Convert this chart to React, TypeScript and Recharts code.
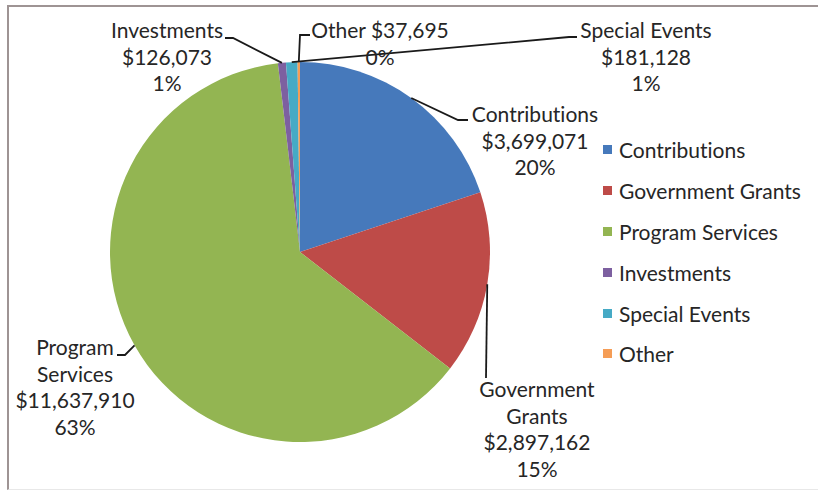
import { Cell, Legend, Pie, PieChart } from "recharts";

const categories = [
  "Contributions",
  "Government Grants",
  "Program Services",
  "Investments",
  "Special Events",
  "Other",
];
const amounts = [3699071, 2897162, 11637910, 126073, 181128, 37695];
const percentLabels = ["20%", "15%", "63%", "1%", "1%", "0%"];
const labelNameLines = [
  ["Contributions"],
  ["Government", "Grants"],
  ["Program", "Services"],
  ["Investments"],
  ["Special Events"],
  ["Other"],
];

const colors = ["#4679bb", "#be4b48", "#93b552", "#7d60a0", "#46aac5", "#f59d56"];
const FONT = "Lato, 'Noto Sans', sans-serif";
const TEXT = "#262626";
const RAD = Math.PI / 180;

// where each data label sits and how its leader line bends
const labelLayout = [
  { x: 535, y: 122, leader: [[458, 120], [468, 120]] },
  { x: 537, y: 397, leader: [[486, 378]] },
  { x: 75, y: 355, leader: [[125, 355], [117, 355]] },
  { x: 167, y: 38, leader: [[233, 38], [225, 38]] },
  { x: 646, y: 38, leader: [[569, 37], [577, 37]] },
  { x: 380, y: 38, inline: true, leader: [[300, 35], [310, 35]] },
];

const data = categories.map((name, i) => ({ name, value: amounts[i] }));

const money = (v: number) => "$" + v.toLocaleString("en-US");

function renderLabel(props: any) {
  const { cx, cy, midAngle, outerRadius, index } = props;
  const layout = labelLayout[index];
  const sx = cx + outerRadius * Math.cos(-midAngle * RAD);
  const sy = cy + outerRadius * Math.sin(-midAngle * RAD);
  const points = [[sx, sy], ...layout.leader].map((p) => p.join(",")).join(" ");
  const lines = layout.inline
    ? [`${labelNameLines[index].join(" ")} ${money(amounts[index])}`, percentLabels[index]]
    : [...labelNameLines[index], money(amounts[index]), percentLabels[index]];

  return (
    <g key={`label-${index}`}>
      <polyline points={points} fill="none" stroke="#1a1a1a" strokeWidth={1.8} />
      <text
        x={layout.x}
        y={layout.y}
        textAnchor="middle"
        fontFamily={FONT}
        fontSize={21}
        fill={TEXT}
        style={{ fontVariantLigatures: "none" }}
      >
        {lines.map((line, i) => (
          <tspan key={i} x={layout.x} dy={i === 0 ? 0 : 26.7}>
            {line}
          </tspan>
        ))}
      </text>
    </g>
  );
}

function renderLegend(props: any) {
  // keep the series order instead of the alphabetical one
  const payload = [...(props.payload || [])].sort(
    (a: any, b: any) => categories.indexOf(a.value) - categories.indexOf(b.value)
  );
  return (
    <div>
      {payload.map((entry: any, i: number) => (
        <div
          key={i}
          style={{
            height: 40.8,
            display: "flex",
            alignItems: "center",
            fontFamily: FONT,
            fontSize: 21,
            color: TEXT,
            whiteSpace: "nowrap",
            fontVariantLigatures: "none",
          }}
        >
          <span
            style={{
              display: "inline-block",
              width: 9,
              height: 9,
              background: entry.color,
              marginRight: 7,
            }}
          />
          {entry.value}
        </div>
      ))}
    </div>
  );
}

export default function App() {
  return (
    <div style={{ position: "absolute", left: 0, top: 0, width: 818, height: 496, background: "#fff", overflow: "hidden" }}>
      <div
        style={{
          position: "absolute",
          left: 7,
          top: 5,
          width: 840,
          height: 482,
          borderLeft: "2px solid #9e9494",
          borderTop: "2px solid #9e9494",
          borderBottom: "1px solid #e8e8e8",
        }}
      />
      <div style={{ position: "absolute", left: 0, top: 0 }}>
        <PieChart width={818} height={496} margin={{ top: 0, right: 0, bottom: 0, left: 0 }}>
          <Pie
            data={data}
            dataKey="value"
            nameKey="name"
            cx={300}
            cy={252}
            outerRadius={190}
            startAngle={90}
            endAngle={-270}
            stroke="none"
            label={renderLabel}
            labelLine={false}
            isAnimationActive={false}
          >
            {data.map((d, i) => (
              <Cell key={d.name} fill={colors[i]} />
            ))}
          </Pie>
          <Legend
            layout="vertical"
            align="right"
            verticalAlign="top"
            content={renderLegend}
            wrapperStyle={{ position: "absolute", left: 603, top: 129.6, width: 215, right: "auto", bottom: "auto" }}
          />
        </PieChart>
      </div>
    </div>
  );
}
